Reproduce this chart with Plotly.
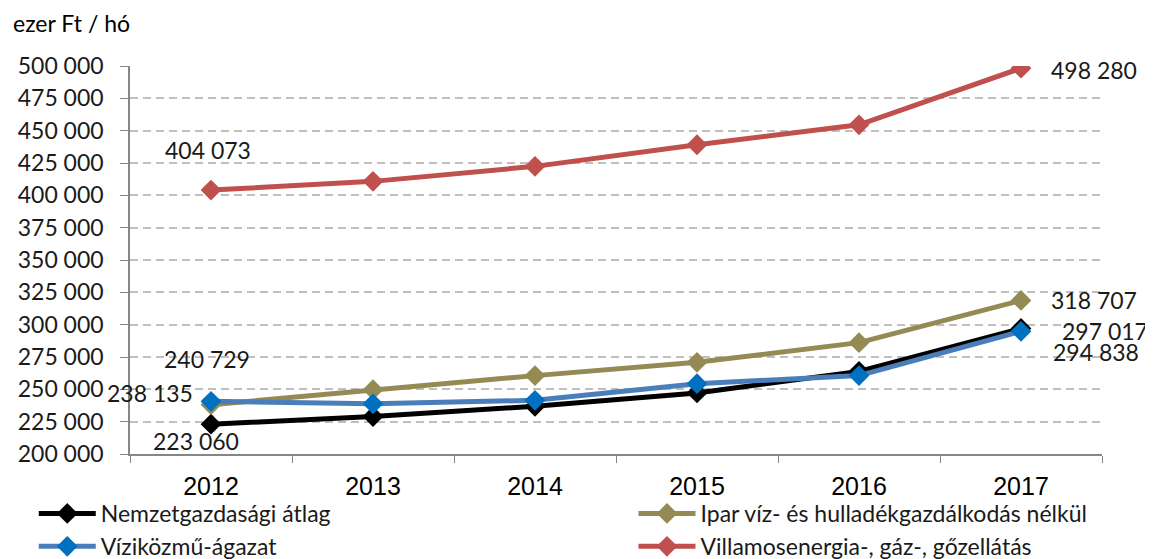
import plotly.graph_objects as go

YEARS = ["2012", "2013", "2014", "2015", "2016", "2017"]

NEMZETGAZD = [223060, 229000, 236900, 247200, 263900, 297017]
IPAR = [238135, 249700, 260600, 270900, 286100, 318707]
VIZIKOZMU = [240729, 238800, 241500, 254400, 260600, 294838]
VILLAMOS = [404073, 410800, 422400, 439100, 454500, 498280]

NAMES = [
    "Nemzetgazdasági átlag",
    "Ipar víz- és hulladékgazdálkodás nélkül",
    "Víziközmű-ágazat",
    "Villamosenergia-, gáz-, gőzellátás",
]

FONT = "Lato, 'Open Sans', sans-serif"
TXT = "#1a1a1a"

fig = go.Figure()

# left legend column: black + blue, right column: olive + red
series = [
    (NEMZETGAZD, NAMES[0], "#000000", "#000000", "legend", 1),
    (IPAR, NAMES[1], "#948A54", "#948A54", "legend2", 1),
    (VIZIKOZMU, NAMES[2], "#4A7EBB", "#0070C0", "legend", 2),
    (VILLAMOS, NAMES[3], "#C0504D", "#C0504D", "legend2", 2),
]

for vals, name, line_c, mark_c, leg, rank in series:
    fig.add_trace(go.Scatter(
        x=YEARS,
        y=vals,
        name=name,
        legend=leg,
        legendrank=rank,
        mode="lines+markers",
        line=dict(color=line_c, width=5),
        marker=dict(symbol="diamond", size=16, color=mark_c),
    ))

# data labels: (series, index, xshift, yshift)
labels = [
    (VILLAMOS, 0, -3, 40),
    (VILLAMOS, 5, 73, -2),
    (IPAR, 5, 73, 0),
    (NEMZETGAZD, 5, 84, -2),
    (VIZIKOZMU, 5, 75, -21),
    (VIZIKOZMU, 0, -4, 42),
    (IPAR, 0, -61, 12),
    (NEMZETGAZD, 0, -15, -17),
]
for vals, i, dx, dy in labels:
    fig.add_annotation(
        x=i, y=vals[i],
        text=f"{vals[i]:,}".replace(",", " "),
        showarrow=False, xshift=dx, yshift=dy,
        font=dict(family=FONT, size=23, color=TXT),
    )

fig.add_annotation(
    x=0, y=1, xref="paper", yref="paper",
    xanchor="left", yanchor="top",
    xshift=-119, yshift=59,
    text="ezer Ft / hó", showarrow=False,
    font=dict(family=FONT, size=23, color="#000000"),
)

LEG = dict(
    orientation="v",
    xanchor="left",
    yanchor="top",
    y=-0.098,
    itemwidth=57,
    tracegroupgap=0,
    bgcolor="rgba(0,0,0,0)",
    font=dict(family=FONT, size=23, color=TXT),
)

# the page body adds an 8px offset, so the figure is 8px smaller
fig.update_layout(
    width=1145,
    height=551,
    separators=", ",
    plot_bgcolor="white",
    paper_bgcolor="white",
    margin=dict(l=122, r=51, t=58, b=105, autoexpand=False),
    font=dict(family=FONT, size=22, color=TXT),
    showlegend=True,
    legend=dict(LEG, x=-0.099),
    legend2=dict(LEG, x=0.518),
)

fig.update_xaxes(
    type="category",
    range=[-0.5, 5.5],
    showgrid=False,
    showline=True,
    linecolor="#868686",
    linewidth=1.5,
    ticks="outside",
    tickson="boundaries",
    ticklen=7,
    tickcolor="#868686",
    ticklabelstandoff=9,
    tickfont=dict(family="Liberation Sans, Arial, sans-serif", size=25, color="#000000"),
)

fig.update_yaxes(
    range=[200000, 500000],
    dtick=25000,
    tickformat=",d",
    showgrid=True,
    gridcolor="#BFBFBF",
    gridwidth=1.5,
    griddash="8px,5px",
    zeroline=False,
    showline=True,
    linecolor="#868686",
    linewidth=1.5,
    ticks="outside",
    ticklen=8,
    tickcolor="#868686",
    ticklabelstandoff=12,
    tickfont=dict(family=FONT, size=23, color=TXT),
)

fig.write_html("out.html")
